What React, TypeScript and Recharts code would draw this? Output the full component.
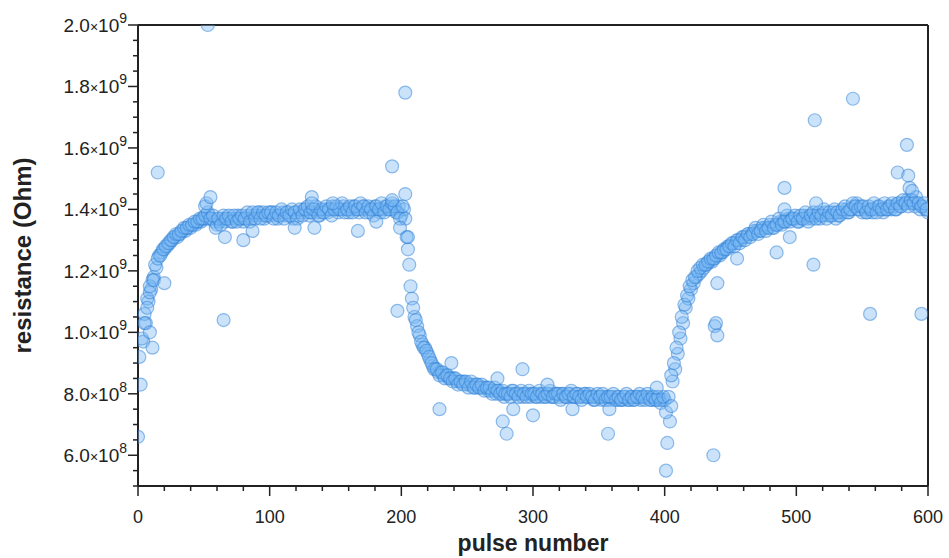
import React from "react";
import {
  ScatterChart,
  Scatter,
  XAxis,
  YAxis,
  ReferenceLine,
} from "recharts";

// resistance along the main trace, in units of 1e7 Ohm
// even pulses 0, 2, 4 ... 600
const traceEven: number[] = [
  66, 83, 97, 103, 110, 114, 118, 121, 125, 126, 127, 128, 129, 130, 131, 131, 132, 133, 133, 134, 134, 135, 135, 136, 136,
  137, 137, 138, 137, 136, 135, 136, 137, 136, 137, 137, 136, 137, 138, 137, 136, 137, 138, 137, 138, 138, 139, 138, 137, 138,
  138, 139, 138, 137, 138, 139, 138, 139, 138, 137, 139, 138, 139, 140, 139, 138, 139, 140, 139, 138, 139, 140, 139, 140, 141,
  140, 139, 140, 141, 140, 139, 140, 141, 140, 139, 140, 141, 140, 139, 140, 141, 140, 139, 140, 141, 140, 141, 140, 139, 141,
  138, 140, 131, 122, 111, 105, 102, 99, 96, 95, 93, 91, 89, 88, 87, 87, 86, 86, 85, 85, 85, 84, 84, 84, 84,
  83, 83, 83, 82, 83, 82, 82, 82, 81, 81, 81, 80, 81, 80, 79, 80, 80, 81, 80, 80, 80, 79, 80, 80, 79,
  80, 79, 80, 79, 80, 79, 80, 79, 79, 80, 79, 80, 79, 79, 80, 79, 79, 80, 79, 79, 80, 79, 79, 78, 79,
  79, 78, 79, 79, 78, 79, 78, 79, 78, 78, 79, 78, 79, 78, 79, 79, 78, 79, 79, 79, 78, 79, 78, 78, 78,
  78, 64, 71, 84, 88, 93, 98, 103, 108, 111, 114, 116, 118, 119, 120, 121, 122, 123, 123, 124, 125, 125, 126, 127, 128,
  128, 129, 129, 130, 130, 131, 131, 132, 132, 133, 133, 133, 134, 134, 134, 135, 134, 135, 135, 136, 136, 136, 137, 137, 137,
  137, 136, 137, 138, 137, 138, 137, 138, 138, 137, 138, 139, 138, 138, 139, 137, 138, 139, 139, 140, 139, 140, 141, 142, 140,
  139, 140, 139, 140, 139, 140, 141, 140, 139, 140, 141, 140, 141, 140, 142, 141, 142, 143, 142, 143, 141, 142, 140, 141, 140, 139,
];
// odd pulses 1, 3, 5 ... 599
const traceOdd: number[] = [
  92, 98, 106, 111, 113, 117, 122, 124, 125, 127, 128, 129, 130, 131, 132, 132, 133, 134, 134, 135, 135, 136, 136, 137, 137,
  138, 139, 137, 138, 134, 137, 135, 138, 137, 138, 136, 138, 136, 137, 138, 137, 139, 136, 139, 137, 139, 137, 139, 138, 139,
  139, 137, 139, 138, 140, 137, 139, 138, 140, 139, 137, 140, 138, 140, 141, 139, 140, 141, 138, 140, 139, 141, 140, 138, 140,
  141, 140, 142, 139, 140, 141, 139, 141, 140, 142, 141, 139, 141, 140, 138, 141, 140, 142, 139, 141, 140, 142, 141, 139, 137,
  141, 137, 127, 115, 108, 104, 100, 97, 95, 94, 92, 90, 88, 88, 86, 87, 85, 86, 85, 84, 85, 83, 84, 83, 84,
  82, 84, 82, 83, 82, 83, 81, 82, 82, 80, 82, 81, 80, 81, 80, 80, 79, 81, 80, 79, 81, 80, 79, 81, 80,
  80, 79, 81, 80, 79, 80, 81, 79, 80, 80, 78, 80, 79, 80, 81, 79, 80, 79, 78, 80, 79, 80, 79, 78, 80,
  79, 80, 78, 79, 79, 80, 78, 79, 78, 79, 80, 78, 79, 78, 79, 80, 79, 78, 80, 78, 79, 78, 79, 77, 79,
  74, 79, 86, 90, 95, 100, 105, 109, 112, 115, 117, 118, 120, 121, 122, 122, 123, 124, 124, 125, 126, 126, 127, 127, 128,
  129, 128, 130, 129, 131, 130, 132, 131, 132, 134, 132, 133, 135, 133, 134, 136, 134, 135, 137, 135, 136, 138, 136, 137, 138,
  136, 138, 137, 139, 136, 138, 139, 137, 139, 138, 140, 137, 139, 138, 140, 139, 138, 140, 141, 139, 140, 142, 141, 140, 141,
  141, 139, 141, 140, 142, 139, 141, 140, 142, 140, 141, 142, 140, 142, 141, 143, 142, 141, 143, 142, 144, 142, 141, 142, 140,
];

// scattered points away from the trace: [pulse, resistance in 1e7 Ohm]
const outliers: [number, number][] = [
  [5, 103], [7, 108], [9, 100], [9, 115], [11, 95], [12, 117], [15, 152], [20, 116],
  [51, 141], [52, 142], [53, 200], [55, 144], [65, 104], [66, 131], [80, 130], [87, 133],
  [119, 134], [132, 144], [132, 142], [134, 134], [148, 142], [167, 133], [181, 136],
  [193, 154], [193, 143], [197, 107], [199, 134], [203, 178], [203, 145], [205, 131],
  [229, 75], [238, 90], [273, 85], [277, 71], [280, 67], [285, 75], [292, 88], [300, 73],
  [311, 83], [330, 75], [357, 67], [358, 75], [394, 82], [401, 55], [405, 76],
  [437, 60], [438, 102], [439, 103], [440, 99], [440, 116], [455, 124], [485, 126],
  [491, 147], [491, 140], [495, 131], [513, 122], [514, 169], [515, 142], [543, 176],
  [556, 106], [577, 152], [584, 161], [585, 151], [586, 147], [588, 146], [595, 106],
];

const xTicks = [0, 20, 40, 60, 80, 100, 120, 140, 160, 180, 200, 220, 240, 260, 280, 300, 320, 340, 360, 380, 400, 420, 440, 460, 480, 500, 520, 540, 560, 580, 600];
const yTicks = [
  5e8, 5.5e8, 6e8, 6.5e8, 7e8, 7.5e8, 8e8, 8.5e8, 9e8, 9.5e8, 1e9, 1.05e9, 1.1e9, 1.15e9, 1.2e9, 1.25e9,
  1.3e9, 1.35e9, 1.4e9, 1.45e9, 1.5e9, 1.55e9, 1.6e9, 1.65e9, 1.7e9, 1.75e9, 1.8e9, 1.85e9, 1.9e9, 1.95e9, 2e9,
];

const points = [
  ...traceEven.map((r, i) => ({ pulse: i * 2, ohm: r * 1e7 })),
  ...traceOdd.map((r, i) => ({ pulse: i * 2 + 1, ohm: r * 1e7 })),
  ...outliers.map(([p, r]) => ({ pulse: p, ohm: r * 1e7 })),
];

const FONT = "'Liberation Sans', Arial, sans-serif";
const INK = "#222";

const Dot = (props: any) => (
  <circle
    cx={props.cx}
    cy={props.cy}
    r={6.5}
    fill="#7ab8f5"
    fillOpacity={0.4}
    stroke="#2f7fd6"
    strokeOpacity={0.5}
    strokeWidth={1.2}
  />
);

const XTick = ({ x, y, payload }: any) => {
  const major = payload.value % 100 === 0;
  return (
    <g>
      <line x1={x} x2={x} y1={y} y2={y + (major ? 10 : 5)} stroke={INK} strokeWidth={1.5} />
      {major && (
        <text x={x} y={y + 37} textAnchor="middle" fontFamily={FONT} fontSize={18} fill={INK}>
          {payload.value}
        </text>
      )}
    </g>
  );
};

const YTick = ({ x, y, payload }: any) => {
  const v: number = payload.value;
  const major = Math.round(v / 5e7) % 4 === 0;
  const exp = Math.floor(Math.log10(v) + 1e-9);
  const mant = (v / Math.pow(10, exp)).toFixed(1);
  return (
    <g>
      <line x1={x - (major ? 10 : 5)} x2={x} y1={y} y2={y} stroke={INK} strokeWidth={1.5} />
      {major && (
        <text x={x - 11} y={y + 7} textAnchor="end" fontFamily={FONT} fontSize={19} fill={INK}>
          {mant}
          <tspan fontSize={14}>×</tspan>
          10
          <tspan dy={-9} fontSize={14}>{exp}</tspan>
        </text>
      )}
    </g>
  );
};

export default function App() {
  return (
    <div style={{ position: "absolute", left: 0, top: 0, width: 949, height: 558, background: "#fff" }}>
      <ScatterChart width={949} height={558} margin={{ top: 25, right: 21, bottom: 0, left: 0 }}>
        <XAxis
          type="number"
          dataKey="pulse"
          domain={[0, 600]}
          ticks={xTicks}
          interval={0}
          tickSize={0}
          tickMargin={0}
          tickLine={false}
          tick={<XTick />}
          height={72}
          allowDataOverflow
          axisLine={{ stroke: INK, strokeWidth: 2 }}
          label={{ value: "pulse number", position: "insideBottom", offset: 7, fontFamily: FONT, fontSize: 23, fontWeight: 700, fill: INK }}
        />
        <YAxis
          type="number"
          dataKey="ohm"
          domain={[5e8, 2e9]}
          ticks={yTicks}
          interval={0}
          tickSize={0}
          tickMargin={0}
          tickLine={false}
          tick={<YTick />}
          width={138}
          allowDataOverflow
          axisLine={{ stroke: INK, strokeWidth: 2 }}
          label={{
            value: "resistance (Ohm)",
            angle: -90,
            position: "insideLeft",
            offset: 22,
            style: { textAnchor: "middle" },
            fontFamily: FONT,
            fontSize: 24,
            fontWeight: 700,
            fill: INK,
          }}
        />
        <Scatter data={points} shape={<Dot />} isAnimationActive={false} />
        <ReferenceLine y={2e9} stroke={INK} strokeWidth={2} />
        <ReferenceLine x={600} stroke={INK} strokeWidth={2} />
      </ScatterChart>
    </div>
  );
}
